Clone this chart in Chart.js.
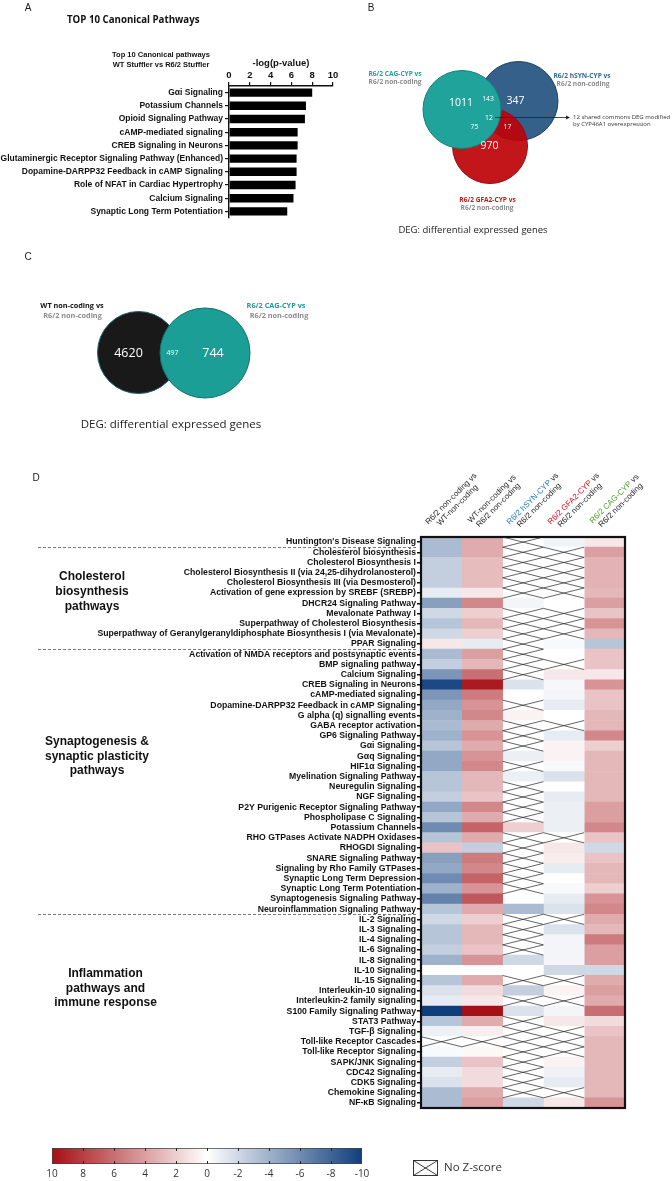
<!DOCTYPE html>
<html>
<head>
<meta charset="utf-8">
<script src="https://cdn.jsdelivr.net/npm/chart.js"></script>
<style>
  body { margin:0; background:#fff; width:672px; height:1181px; position:relative; overflow:hidden; font-family:"Liberation Sans", Arial, sans-serif; }
  canvas { position:absolute; }
  .t { position:absolute; white-space:nowrap; line-height:1; }
</style>
</head>
<body>
<canvas id="barA" width="340" height="226" style="left:0;top:0"></canvas>
<canvas id="vennB" width="332" height="240" style="left:340px;top:0"></canvas>
<canvas id="vennC" width="340" height="200" style="left:0;top:240px"></canvas>
<canvas id="heat" width="672" height="650" style="left:0;top:465px"></canvas>
<canvas id="cbar" width="672" height="45" style="left:0;top:1136px"></canvas>
<script>
// ---- panel A: top 10 canonical pathways
const pathwaysA = ['Gαi Signaling', 'Potassium Channels', 'Opioid Signaling Pathway', 'cAMP-mediated signaling',
  'CREB Signaling in Neurons', 'Glutaminergic Receptor Signaling Pathway (Enhanced)',
  'Dopamine-DARPP32 Feedback in cAMP Signaling', 'Role of NFAT in Cardiac Hypertrophy',
  'Calcium Signaling', 'Synaptic Long Term Potentiation'];
const logP = [8.0, 7.4, 7.3, 6.6, 6.6, 6.5, 6.5, 6.4, 6.2, 5.6];
const logPTicks = [0, 2, 4, 6, 8, 10];

// ---- panel B: 3-way venn (DEG counts)
const vennBSets = ['R6/2 CAG-CYP', 'R6/2 hSYN-CYP', 'R6/2 GFA2-CYP'];
const vennBOnly = [1011, 347, 970];
const vennBPairs = [143, 75, 17];   // CAG&hSYN, CAG&GFA2, hSYN&GFA2
const vennBAll = 12;

// ---- panel C: 2-way venn
const vennCSets = ['WT non-coding', 'R6/2 CAG-CYP'];
const vennCOnly = [4620, 744];
const vennCBoth = 497;

// ---- panel D: z-score heatmap (null = no z-score)
const pathways = ["Huntington's Disease Signaling", 'Cholesterol biosynthesis', 'Cholesterol Biosynthesis I',
  'Cholesterol Biosynthesis II (via 24,25-dihydrolanosterol)', 'Cholesterol Biosynthesis III (via Desmosterol)',
  'Activation of gene expression by SREBF (SREBP)', 'DHCR24 Signaling Pathway', 'Mevalonate Pathway I',
  'Superpathway of Cholesterol Biosynthesis', 'Superpathway of Geranylgeranyldiphosphate Biosynthesis I (via Mevalonate)',
  'PPAR Signaling', 'Activation of NMDA receptors and postsynaptic events', 'BMP signaling pathway', 'Calcium Signaling',
  'CREB Signaling in Neurons', 'cAMP-mediated signaling', 'Dopamine-DARPP32 Feedback in cAMP Signaling',
  'G alpha (q) signalling events', 'GABA receptor activation', 'GP6 Signaling Pathway', 'Gαi Signaling', 'Gαq Signaling',
  'HIF1α Signaling', 'Myelination Signaling Pathway', 'Neuregulin Signaling', 'NGF Signaling',
  'P2Y Purigenic Receptor Signaling Pathway', 'Phospholipase C Signaling', 'Potassium Channels',
  'RHO GTPases Activate NADPH Oxidases', 'RHOGDI Signaling', 'SNARE Signaling Pathway', 'Signaling by Rho Family GTPases',
  'Synaptic Long Term Depression', 'Synaptic Long Term Potentiation', 'Synaptogenesis Signaling Pathway',
  'Neuroinflammation Signaling Pathway', 'IL-2 Signaling', 'IL-3 Signaling', 'IL-4 Signaling', 'IL-6 Signaling',
  'IL-8 Signaling', 'IL-10 Signaling', 'IL-15 Signaling', 'Interleukin-10 signaling', 'Interleukin-2 family signaling',
  'S100 Family Signaling Pathway', 'STAT3 Pathway', 'TGF-β Signaling', 'Toll-like Receptor Cascades',
  'Toll-like Receptor Signaling', 'SAPK/JNK Signaling', 'CDC42 Signaling', 'CDK5 Signaling', 'Chemokine Signaling',
  'NF-κB Signaling'];

const zR62vsWT = [-3.5, -3.5, -2.5, -2.5, -2.5, -1, -5, -2, -3, -2, 1, -3.5, -2.5, -5.5, -9.5, -5.5, -4.5,
  -4, -3.5, -4, -3, -4.5, -4.5, -3, -3, -2.5, -4.5, -3, -6, -3, 2.5, -5, -4.5, -6,
  -4, -6.5, -3, -2, -3, -3, -2.5, -4, 0, -3, -1.5, -1, -10, -3, -0.7, null, -0.3, -2.5, -1, -1.5, -3.5, -3.5];
const zWTvsR62 = [3.5, 3.5, 2.8, 2.8, 2.8, 1, 5, 2, 3, 2, -1, 4, 3, 6, 9.5, 5.5, 4.5,
  5, 3.5, 4.5, 3.5, 4.5, 5, 3, 3, 2.5, 5, 3.5, 6.5, 3.5, -2.5, 5.5, 5, 6.5,
  4.5, 7, 3.5, 2, 3, 3, 2.5, 4.5, 0, 3.5, 1.5, 1, 10, 3.5, 0.7, null, 0.3, 2.5, 1.5, 1.5, 3.5, 4];
const zHSYN = [null, null, null, null, null, null, -0.5, null, null, null, null, null, null, null, -1.5, 0, null,
  0.5, null, null, null, -0.8, null, -0.8, null, null, null, null, 2, null, null, null, null, null,
  null, 0, -3.5, null, null, null, null, -2, 0, null, -2.5, null, -1.5, null, null, null, null, null, null, null, null, -2];
const zGFA2 = [-0.6, null, null, null, null, null, 0, null, null, null, -0.3, 0, null, 1, -0.4, -0.5, -1,
  0, null, -1, 0.5, 0.5, -0.3, -1.5, 0, -1, -0.8, -0.8, -0.8, null, 1, 0.8, -1, 0,
  -0.3, -1, -1.5, null, -1.5, -0.5, -0.5, -0.5, -2, null, 0.5, null, -0.5, 1, null, null, null, 0.5, -0.7, -1, null, 1];
const zCAG = [1, 4, 3.2, 3.2, 3.2, 3, 4, 2.5, 4.5, 3, -3, 2.5, 2.5, 1, 4.5, 2.5, 2.5,
  3, 3, 5, 2, 3, 3, 3, 3, 3, 4, 4, 5, 2.5, -2, 2.5, 3, 3,
  2, 4.5, 5, 3.5, 3, 5.5, 4, 4, -2, 3.5, 4, 3.5, 6, 1.5, 2.5, 3, 3, 3, 3, 3, 3, 4.5];
const heatSeries = [zR62vsWT, zWTvsR62, zHSYN, zGFA2, zCAG];

const colHeadTop = [['R6/2 non-coding', ' vs'], ['WT-non-coding', ' vs'], ['R6/2 hSYN-CYP', ' vs'],
  ['R6/2 GFA2-CYP', ' vs'], ['R6/2 CAG-CYP', ' vs']];
const colHeadBottom = ['WT-non-coding', 'R6/2 non-coding', 'R6/2 non-coding', 'R6/2 non-coding', 'R6/2 non-coding'];
const colHeadColor = ['#222', '#222', '#1f74c0', '#d0141c', '#4c9a2a'];

const zTicks = [10, 8, 6, 4, 2, 0, -2, -4, -6, -8, -10];

// red for positive, blue for negative z
function zColor(z) {
  if (z === null) return '#ffffff';
  const t = Math.min(Math.abs(z) / 10, 1);
  const end = z > 0 ? [165, 15, 21] : [16, 62, 125];
  const c = end.map(e => Math.round(255 + (e - 255) * t));
  return 'rgb(' + c.join(',') + ')';
}

function addText(txt, x, y, style, anchor) {
  const d = document.createElement('div');
  d.className = 't';
  d.textContent = txt;
  const tr = anchor === 'l' ? 'translate(0,-50%)' : 'translate(-50%,-50%)';
  d.style.cssText = 'left:' + x + 'px;top:' + y + 'px;transform:' + tr + ';' + (style || '');
  document.body.appendChild(d);
}

const ARIAL = 'Liberation Sans, Arial, sans-serif';
const OPEN = "'Open Sans', sans-serif";

// ================= A =================
addText('A', 28, 8, 'font-size:10px;color:#222;');
addText('TOP 10 Canonical Pathways', 67, 19, "font:700 9.7px " + OPEN + ";color:#111;", 'l');
addText('Top 10 Canonical pathways', 161, 54, 'font:bold 7.5px ' + ARIAL + ';color:#111;');
addText('WT Stuffler vs R6/2 Stuffler', 161, 64, 'font:bold 7.5px ' + ARIAL + ';color:#111;');
addText('-log(p-value)', 281, 62, 'font:bold 9.5px ' + ARIAL + ';color:#111;');

new Chart(document.getElementById('barA'), {
  type: 'bar',
  data: { labels: pathwaysA, datasets: [{ data: logP, backgroundColor: '#000', barPercentage: 0.64, categoryPercentage: 1 }] },
  options: {
    indexAxis: 'y', responsive: false, animation: false,
    layout: { padding: { top: 69, right: 7, bottom: 8, left: 0 } },
    plugins: { legend: { display: false }, tooltip: { enabled: false } },
    scales: {
      x: {
        position: 'top', min: 0, max: 10,
        afterBuildTicks: s => { s.ticks = logPTicks.map(v => ({ value: v })); },
        afterFit: s => { s.height = 17; },
        ticks: { color: '#111', font: { family: ARIAL, size: 9.5, weight: 'bold' }, padding: 1, maxRotation: 0 },
        grid: { drawOnChartArea: false, tickLength: 4, color: '#111', lineWidth: 1.2 },
        border: { color: '#111', width: 1.4 }
      },
      y: {
        afterFit: s => { s.width = 229; },
        ticks: { color: '#111', font: { family: ARIAL, size: 8.5, weight: 'bold' }, autoSkip: false, padding: 2 },
        grid: { drawOnChartArea: false, offset: false, tickLength: 4, color: '#111', lineWidth: 1.2 },
        border: { color: '#111', width: 1.4 }
      }
    }
  }
});

// ================= venn helper =================
const vennText = {
  id: 'vennText',
  afterDatasetsDraw(chart, args, opts) {
    const { ctx, scales: { x, y } } = chart;
    ctx.save();
    ctx.textAlign = 'center';
    ctx.textBaseline = 'middle';
    (opts.items || []).forEach(it => {
      ctx.font = it.size + 'px ' + OPEN;
      ctx.fillStyle = '#fff';
      ctx.fillText(String(it.value), x.getPixelForValue(it.x), y.getPixelForValue(it.y));
    });
    if (opts.arrow) {
      const a = opts.arrow;
      const x0 = x.getPixelForValue(a.x0), x1 = x.getPixelForValue(a.x1), yy = y.getPixelForValue(a.y);
      ctx.strokeStyle = '#222'; ctx.fillStyle = '#222'; ctx.lineWidth = 0.8;
      ctx.beginPath(); ctx.moveTo(x0, yy); ctx.lineTo(x1 - 3, yy); ctx.stroke();
      ctx.beginPath(); ctx.moveTo(x1, yy); ctx.lineTo(x1 - 4, yy - 2); ctx.lineTo(x1 - 4, yy + 2); ctx.closePath(); ctx.fill();
    }
    ctx.restore();
  }
};

function vennChart(id, w, h, circles, items, arrow) {
  return new Chart(document.getElementById(id), {
    type: 'bubble',
    data: {
      datasets: circles.map(c => ({
        data: [{ x: c.x, y: c.y, r: c.r }],
        backgroundColor: c.fill, borderColor: c.border, borderWidth: 1
      }))
    },
    options: {
      responsive: false, animation: false,
      layout: { padding: 0, autoPadding: false },
      plugins: { legend: { display: false }, tooltip: { enabled: false }, vennText: { items: items, arrow: arrow } },
      scales: {
        x: { type: 'linear', min: 0, max: w, display: false },
        y: { type: 'linear', min: 0, max: h, reverse: true, display: false }
      }
    },
    plugins: [vennText]
  });
}

// ================= B =================
addText('B', 371, 8, 'font-size:10px;color:#222;');
const vennBCircles = [
  { x: 122, y: 109.5, r: 39, fill: 'rgb(31,163,155)', border: '#167f78' },
  { x: 150, y: 146, r: 37.5, fill: 'rgba(190,2,8,0.92)', border: '#8e1014' },
  { x: 178.5, y: 101, r: 39.5, fill: 'rgba(19,70,118,0.86)', border: '#1d3f63' }
];
vennChart('vennB', 332, 240, vennBCircles, [
  { value: vennBOnly[0], x: 121, y: 103.5, size: 10.5 },
  { value: vennBOnly[1], x: 175.5, y: 101.5, size: 10.5 },
  { value: vennBOnly[2], x: 149.5, y: 146.5, size: 10.5 },
  { value: vennBPairs[0], x: 148, y: 99.5, size: 6.8 },
  { value: vennBPairs[1], x: 134.5, y: 127.5, size: 6.8 },
  { value: vennBPairs[2], x: 167.5, y: 127.5, size: 6.8 },
  { value: vennBAll, x: 149, y: 118, size: 6.8 }
], { x0: 155, x1: 230, y: 117.5 });
addText(vennBSets[0] + ' vs', 395, 73, "font:700 6.6px " + OPEN + ";color:#1fa39b;");
addText('R6/2 non-coding', 395, 81, "font:700 6.6px " + OPEN + ";color:#8c8c8c;");
addText(vennBSets[1] + ' vs', 582, 75, "font:700 6.6px " + OPEN + ";color:#2f6a9a;");
addText('R6/2 non-coding', 583, 82.5, "font:700 6.6px " + OPEN + ";color:#8c8c8c;");
addText(vennBSets[2] + ' vs', 487.5, 198.5, "font:700 6.6px " + OPEN + ";color:#c3161c;");
addText('R6/2 non-coding', 487, 206.5, "font:700 6.6px " + OPEN + ";color:#8c8c8c;");
addText('12 shared commons DEG modified', 573, 116.5, "font:6px " + OPEN + ";color:#333;", 'l');
addText('by CYP46A1 overexpression', 573, 124, "font:6px " + OPEN + ";color:#333;", 'l');
addText('DEG: differential expressed genes', 473, 229, "font:9.5px " + OPEN + ";color:#222;");

// ================= C =================
addText('C', 28, 257, 'font-size:10px;color:#222;');
const vennCCircles = [
  { x: 205, y: 113, r: 45, fill: 'rgb(26,158,150)', border: '#14706b' },
  { x: 138.5, y: 112.5, r: 41, fill: 'rgba(0,0,0,0.9)', border: '#1f5f74' }
];
vennChart('vennC', 340, 200, vennCCircles, [
  { value: vennCOnly[0], x: 128.5, y: 113, size: 12.5 },
  { value: vennCOnly[1], x: 213, y: 113, size: 12.5 },
  { value: vennCBoth, x: 172.5, y: 113, size: 7 }
], null);
addText(vennCSets[0] + ' vs', 72, 305, "font:700 7.3px " + OPEN + ";color:#111;");
addText('R6/2 non-coding', 72.5, 314.5, "font:700 7.3px " + OPEN + ";color:#8c8c8c;");
addText(vennCSets[1] + ' vs', 276, 305, "font:700 7.3px " + OPEN + ";color:#1a9e96;");
addText('R6/2 non-coding', 279, 314.5, "font:700 7.3px " + OPEN + ";color:#8c8c8c;");
addText('DEG: differential expressed genes', 171, 422.5, "font:11.5px " + OPEN + ";color:#222;");

// ================= D =================
addText('D', 36, 478, 'font-size:10px;color:#222;');

const heatDecor = {
  id: 'heatDecor',
  afterDatasetsDraw(chart) {
    const { ctx } = chart;
    ctx.save();
    ctx.strokeStyle = '#222';
    ctx.lineWidth = 0.7;
    heatSeries.forEach((s, j) => {
      const meta = chart.getDatasetMeta(j);
      s.forEach((z, i) => {
        if (z !== null) return;
        const el = meta.data[i];
        const l = Math.min(el.x, el.base), r = Math.max(el.x, el.base);
        const t = el.y - el.height / 2, b = el.y + el.height / 2;
        ctx.beginPath();
        ctx.moveTo(l, t); ctx.lineTo(r, b);
        ctx.moveTo(l, b); ctx.lineTo(r, t);
        ctx.stroke();
      });
    });
    ctx.restore();
  },
  afterDraw(chart) {
    const { ctx, chartArea: a, scales: { x, y } } = chart;
    ctx.save();
    // frame
    ctx.strokeStyle = '#111';
    ctx.lineWidth = 2.2;
    ctx.strokeRect(a.left, a.top, a.right - a.left, a.bottom - a.top);

    // rotated column headers
    ctx.font = '8px ' + ARIAL;
    ctx.textBaseline = 'middle';
    ctx.textAlign = 'left';
    colHeadTop.forEach((parts, j) => {
      const cx = x.getPixelForValue(j + 0.5);
      ctx.save();
      ctx.translate(cx + 13, a.top - 35);
      ctx.rotate(-Math.PI / 4);
      const w1 = ctx.measureText(parts[0]).width, w2 = ctx.measureText(parts[1]).width;
      const sx = -(w1 + w2) / 2;
      ctx.fillStyle = colHeadColor[j];
      ctx.fillText(parts[0], sx, -4.5);
      ctx.fillStyle = '#222';
      ctx.fillText(parts[1], sx + w1, -4.5);
      const w3 = ctx.measureText(colHeadBottom[j]).width;
      ctx.fillText(colHeadBottom[j], -w3 / 2, 4.5);
      ctx.restore();
    });

    // group separators + group titles
    ctx.strokeStyle = '#555';
    ctx.lineWidth = 0.8;
    ctx.setLineDash([3, 2]);
    [0, 10, 36].forEach(i => {
      const yy = Math.round((y.getPixelForValue(i) + y.getPixelForValue(i + 1)) / 2) + 0.5;
      ctx.beginPath(); ctx.moveTo(38, yy); ctx.lineTo(416, yy); ctx.stroke();
    });
    ctx.setLineDash([]);
    ctx.fillStyle = '#111';
    ctx.font = 'bold 12px ' + ARIAL;
    ctx.textAlign = 'center';
    const groups = [
      { at: 4.85, cx: 92, lines: ['Cholesterol', 'biosynthesis', 'pathways'], gap: 15 },
      { at: 21.0, cx: 97, lines: ['Synaptogenesis &', 'synaptic plasticity', 'pathways'], gap: 14.7 },
      { at: 43.75, cx: 105.5, lines: ['Inflammation', 'pathways and', 'immune response'], gap: 14.2 }
    ];
    groups.forEach(g => {
      const cy = y.getPixelForValue(g.at);
      g.lines.forEach((ln, k) => ctx.fillText(ln, g.cx, cy + (k - 1) * g.gap));
    });
    ctx.restore();
  }
};

new Chart(document.getElementById('heat'), {
  type: 'bar',
  data: {
    labels: pathways,
    datasets: heatSeries.map(s => ({
      data: s.map(() => 1),
      backgroundColor: s.map(zColor),
      borderWidth: 0, barPercentage: 1, categoryPercentage: 1
    }))
  },
  options: {
    indexAxis: 'y', responsive: false, animation: false,
    layout: { padding: { top: 72, right: 47, bottom: 7, left: 0 } },
    plugins: { legend: { display: false }, tooltip: { enabled: false } },
    scales: {
      x: { stacked: true, min: 0, max: 5, display: false },
      y: {
        stacked: true,
        afterFit: s => { s.width = 421; },
        ticks: { color: '#111', font: { family: ARIAL, size: 8.7, weight: 'bold' }, autoSkip: false, padding: 1 },
        grid: { drawOnChartArea: false, offset: false, tickLength: 4, color: '#111', lineWidth: 1.5 },
        border: { display: false }
      }
    }
  },
  plugins: [heatDecor]
});

// ================= colour scale =================
const cbarDecor = {
  id: 'cbarDecor',
  afterDraw(chart) {
    const { ctx, chartArea: a, scales: { x } } = chart;
    ctx.save();
    ctx.strokeStyle = '#222';
    ctx.lineWidth = 1;
    zTicks.forEach((v, k) => {
      if (k === 0 || k === zTicks.length - 1) return;
      const px = Math.round(x.getPixelForValue(v)) + 0.5;
      ctx.beginPath();
      ctx.moveTo(px, a.top); ctx.lineTo(px, a.top + 3);
      ctx.moveTo(px, a.bottom); ctx.lineTo(px, a.bottom - 3);
      ctx.stroke();
    });
    // "No Z-score" key
    const bx = 413.5, by = 24.5, bw = 24, bh = 15;
    ctx.strokeStyle = '#222';
    ctx.lineWidth = 0.9;
    ctx.strokeRect(bx, by, bw, bh);
    ctx.beginPath();
    ctx.moveTo(bx, by); ctx.lineTo(bx + bw, by + bh);
    ctx.moveTo(bx, by + bh); ctx.lineTo(bx + bw, by);
    ctx.stroke();
    ctx.fillStyle = '#333';
    ctx.font = "11.5px 'Open Sans', sans-serif";
    ctx.textBaseline = 'middle';
    ctx.textAlign = 'left';
    ctx.fillText('No Z-score', 444, by + bh / 2);
    ctx.restore();
  }
};

new Chart(document.getElementById('cbar'), {
  type: 'bar',
  data: {
    labels: ['z'],
    datasets: [{
      data: [[zTicks[0], zTicks[zTicks.length - 1]]],
      backgroundColor: ctx => {
        const a = ctx.chart.chartArea;
        if (!a) return '#fff';
        const g = ctx.chart.ctx.createLinearGradient(a.left, 0, a.right, 0);
        zTicks.forEach((v, k) => g.addColorStop(k / (zTicks.length - 1), zColor(v)));
        return g;
      },
      borderColor: '#444', borderWidth: 1, borderSkipped: false,
      barPercentage: 1, categoryPercentage: 1
    }]
  },
  options: {
    indexAxis: 'y', responsive: false, animation: false,
    layout: { padding: { left: 52, right: 310, top: 12, bottom: 0 } },
    plugins: { legend: { display: false }, tooltip: { enabled: false } },
    scales: {
      x: {
        min: -10, max: 10, reverse: true,
        afterBuildTicks: s => { s.ticks = zTicks.map(v => ({ value: v })); },
        afterFit: s => { s.height = 17; },
        grid: { display: false, drawTicks: false },
        border: { display: false },
        ticks: { color: '#333', font: { family: "'Open Sans', sans-serif", size: 10 }, padding: 4, maxRotation: 0 }
      },
      y: { display: false }
    }
  },
  plugins: [cbarDecor]
});
</script>
</body>
</html>
